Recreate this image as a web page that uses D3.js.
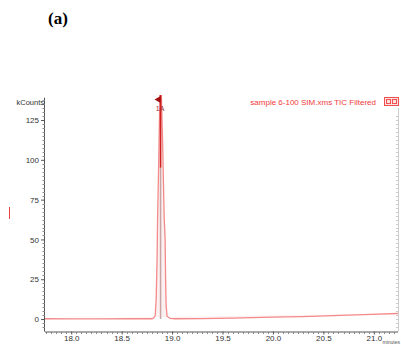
<!DOCTYPE html>
<html><head><meta charset="utf-8">
<script src="https://cdn.jsdelivr.net/npm/d3@7"></script>
<style>body{margin:0;background:#fff}svg{display:block}</style>
</head><body>
<svg id="c" width="401" height="344"></svg>
<script>
// Data: retention time (minutes) vs kCounts
const traceTime = [17.74, 18.0, 18.3, 18.6, 18.80, 18.812, 18.832, 18.842, 18.851, 18.856, 18.864, 18.871, 18.881, 18.891, 18.906, 18.914, 18.921, 18.931, 18.936, 18.941, 18.950, 18.980, 19.03, 19.3, 19.6, 20.0, 20.3, 20.6, 20.9, 21.24];
const traceValue = [0.2, 0.1, 0.1, 0.2, 0.2, 0.4, 1.9, 11.9, 37, 62, 87, 112, 146, 146, 112, 87, 65, 50, 24.5, 8.8, 1.8, 0.4, 0.2, 0.3, 0.6, 1.2, 1.6, 2.2, 2.8, 3.5];
const peakApex = [18.886];
const peakMarkerRange = [95, 146];
const yTicks = [0, 25, 50, 75, 100, 125];
const xTicks = [18.0, 18.5, 19.0, 19.5, 20.0, 20.5, 21.0];
const yLabel = "kCounts";
const xLabel = "minutes";
const legendText = "sample 6-100 SIM.xms TIC Filtered";
const panelLabel = "(a)";
const peakLabel = "1A";

const svg = d3.select("#c");
const x = d3.scaleLinear().domain([17.74, 21.24]).range([45, 398]);
const y = d3.scaleLinear().domain([-7.8, 139]).range([331.5, 97.7]);
const axisColor = "#555";
const font = "Arial, 'Liberation Sans', sans-serif";

// panel label
svg.append("text").attr("x", 48).attr("y", 24).attr("font-family", "'Liberation Serif','Times New Roman',serif")
  .attr("font-weight", "bold").attr("font-size", 17).attr("fill", "#000").text(panelLabel);

// stray red mark on the left
svg.append("line").attr("x1", 9.5).attr("x2", 9.5).attr("y1", 207).attr("y2", 219).attr("stroke", "#f04040").attr("stroke-width", 1);

// clip
svg.append("clipPath").attr("id", "clip").append("rect").attr("x", 45).attr("y", 95).attr("width", 353).attr("height", 236.5);

// trace
const line = d3.line().x(d => x(d[0])).y(d => y(d[1]));
const pts = traceTime.map((t, i) => [t, traceValue[i]]);
const g = svg.append("g").attr("clip-path", "url(#clip)");
g.append("path").datum(pts).attr("d", line).attr("fill", "#fdf0f0").attr("stroke", "#f48a8a").attr("stroke-width", 1.3);
// center line
g.append("line").attr("x1", x(peakApex[0])).attr("x2", x(peakApex[0])).attr("y1", y(0)).attr("y2", y(peakMarkerRange[0]))
  .attr("stroke", "#c8a4a4").attr("stroke-width", 1.5);
g.append("line").attr("x1", x(peakApex[0])).attr("x2", x(peakApex[0])).attr("y1", y(peakMarkerRange[0])).attr("y2", y(peakMarkerRange[1]))
  .attr("stroke", "#d02020").attr("stroke-width", 1.6);

// flag marker
const fx = x(peakApex[0]);
svg.append("path").attr("d", `M${fx},96 L${fx-6},99.5 L${fx},103 Z`).attr("fill", "#a01010");
svg.append("text").attr("x", fx - 0.5).attr("y", 111).attr("text-anchor", "middle").attr("font-family", font)
  .attr("font-size", 7).attr("fill", "#a03030").text(peakLabel);

// y axis
const yAxis = d3.axisLeft(y).tickValues(yTicks).tickSize(4).tickPadding(2).tickFormat(d3.format("d"));
const ya = svg.append("g").attr("transform", "translate(45,0)").call(yAxis);
ya.select(".domain").attr("stroke", axisColor).attr("d", `M-0.5,${y(139)}V${y(-7.8)}`);
ya.selectAll(".tick line").attr("stroke", axisColor);
ya.selectAll(".tick text").attr("font-family", font).attr("font-size", 8).attr("fill", "#333");
const yMinor = d3.range(-5, 139, 2.5).filter(v => !yTicks.includes(v));
svg.append("g").selectAll("line").data(yMinor).join("line")
  .attr("x1", 42.5).attr("x2", 45).attr("y1", d => Math.round(y(d)) + 0.5).attr("y2", d => Math.round(y(d)) + 0.5).attr("stroke", "#888");
svg.append("text").attr("x", 44).attr("y", 105).attr("text-anchor", "end").attr("font-family", font)
  .attr("font-size", 7.5).attr("fill", "#333").text(yLabel);

// x axis
const xAxis = d3.axisBottom(x).tickValues(xTicks).tickSize(3).tickPadding(1).tickFormat(d3.format(".1f"));
const xa = svg.append("g").attr("transform", "translate(0,331.5)").call(xAxis);
xa.select(".domain").attr("stroke", axisColor).attr("d", `M45,0.5H398`);
xa.selectAll(".tick line").attr("stroke", axisColor);
xa.selectAll(".tick text").attr("font-family", font).attr("font-size", 8).attr("fill", "#333");
const xMinor = d3.range(17.75, 21.24, 0.05).filter(v => !xTicks.some(t => Math.abs(t - v) < 1e-6));
svg.append("g").selectAll("line").data(xMinor).join("line")
  .attr("x1", d => Math.round(x(d)) + 0.5).attr("x2", d => Math.round(x(d)) + 0.5).attr("y1", 332).attr("y2", 334).attr("stroke", "#888");
svg.append("text").attr("x", 400).attr("y", 344).attr("text-anchor", "end").attr("font-family", font)
  .attr("font-size", 5).attr("fill", "#555").text(xLabel);

// right axis (faint)
svg.append("line").attr("x1", 398.5).attr("x2", 398.5).attr("y1", 108).attr("y2", 331.5).attr("stroke", "#ccc");
svg.append("g").selectAll("line").data(d3.range(-5, 130, 2.5)).join("line")
  .attr("x1", 396).attr("x2", 398.5).attr("y1", d => Math.round(y(d)) + 0.5).attr("y2", d => Math.round(y(d)) + 0.5).attr("stroke", "#ccc");

// legend
svg.append("text").attr("x", 376).attr("y", 105).attr("text-anchor", "end").attr("font-family", font)
  .attr("font-size", 8).attr("fill", "#f03a3a").text(legendText);
svg.append("rect").attr("x", 384.5).attr("y", 97.5).attr("width", 14).attr("height", 8).attr("fill", "#fde0e0").attr("stroke", "#f05050");
svg.append("rect").attr("x", 386.5).attr("y", 99.5).attr("width", 4).attr("height", 4).attr("fill", "none").attr("stroke", "#f05050");
svg.append("rect").attr("x", 392.5).attr("y", 99.5).attr("width", 4).attr("height", 4).attr("fill", "none").attr("stroke", "#f05050");
</script>
</body></html>
